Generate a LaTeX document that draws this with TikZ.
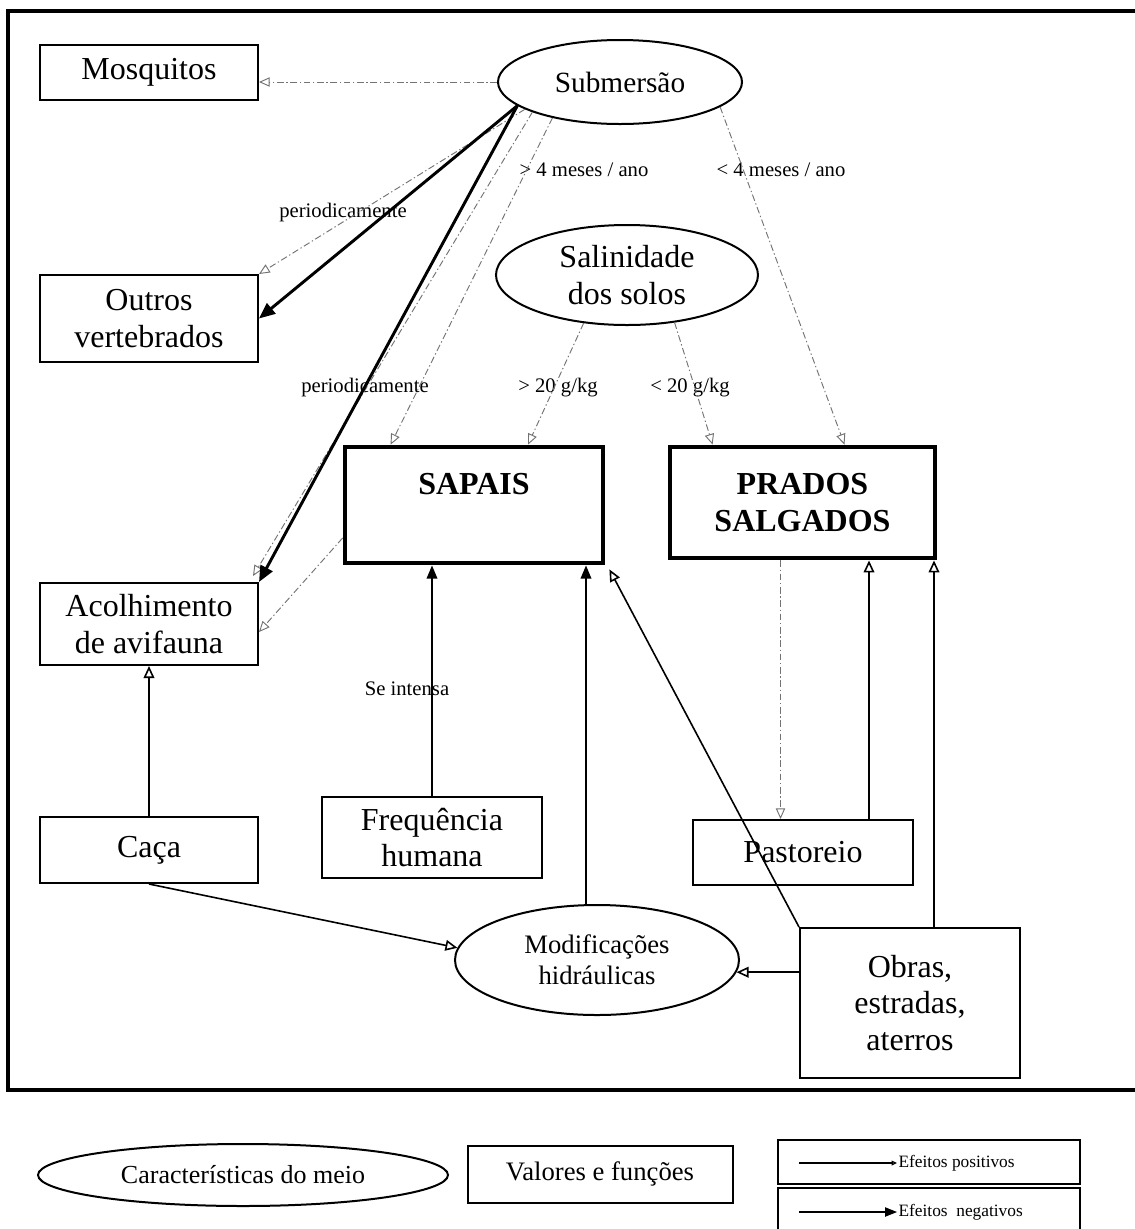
\documentclass[tikz,border=0pt]{standalone}
\usepackage{fontspec}
\setmainfont{Liberation Serif}
\usetikzlibrary{arrows.meta,shapes.geometric,calc}
\begin{document}
\begin{tikzpicture}[x=0.75pt,y=-0.75pt,
 cbox/.style={draw, line width=1.5pt, rectangle, inner sep=0pt, align=center, font=\fontsize{24}{27.5}\selectfont},
 bigbox/.style={draw, line width=3.6pt, rectangle, inner sep=0pt, align=center, font=\bfseries\fontsize{24}{28}\selectfont},
 ell/.style={draw, line width=1.5pt, ellipse, inner sep=0pt, align=center, font=\fontsize{24}{27.5}\selectfont},
 lbl/.style={font=\fontsize{15.5}{17}\selectfont, inner sep=1pt},
 posdash/.style={draw=black!55, line width=0.7pt, dash pattern=on 5pt off 2pt on 1pt off 2pt, -{Triangle[open, length=8pt, width=7pt]}},
 posarr/.style={draw, line width=1.2pt, -{Triangle[open, length=9pt, width=8pt]}},
 negarr/.style={draw, line width=1.3pt, -{Triangle[length=10pt, width=8pt]}},
 negthick/.style={draw, line width=2.2pt, -{Triangle[length=12pt, width=10pt]}}
]
\useasboundingbox (0,0) rectangle (1135,1229);
\fill[white] (0,0) rectangle (1135,1229);
% frame
\draw[line width=3.2pt] (1140,11) -- (8,11) -- (8,1090) -- (1140,1090);

% nodes
\node[cbox, minimum width=218*.75pt, minimum height=55*.75pt] (mosq) at (149,72.5) {Mosquitos};
\node[ell, minimum width=244*.75pt, minimum height=84*.75pt, font=\fontsize{22}{25}\selectfont] (sub) at (620,82) {Submersão};
\node[ell, minimum width=262*.75pt, minimum height=100*.75pt] (sal) at (627,275) {Salinidade\\dos solos};
\node[cbox, minimum width=218*.75pt, minimum height=87*.75pt] (outros) at (149,318.5) {Outros\\vertebrados};
\node[bigbox, minimum width=258*.75pt, minimum height=116*.75pt] (sapais) at (474,505) {};
\node[font=\bfseries\fontsize{24}{28}\selectfont, inner sep=0pt] (sapaist) at (474,484) {SAPAIS};
\node[bigbox, minimum width=265*.75pt, minimum height=111*.75pt] (prados) at (802.5,502.5) {PRADOS\\SALGADOS};
\node[cbox, minimum width=218*.75pt, minimum height=82*.75pt] (acol) at (149,624) {Acolhimento\\de avifauna};
\node[cbox, minimum width=218*.75pt, minimum height=66*.75pt] (caca) at (149,850) {Caça};
\node[cbox, minimum width=220*.75pt, minimum height=81*.75pt] (freq) at (432,837.5) {Frequência\\humana};
\node[cbox, minimum width=220*.75pt, minimum height=65*.75pt] (past) at (803,852.5) {Pastoreio};
\node[ell, minimum width=284*.75pt, minimum height=110*.75pt, font=\fontsize{20}{23}\selectfont] (modif) at (597,960) {Modificações\\hidráulicas};
\node[cbox, minimum width=220*.75pt, minimum height=150*.75pt] (obras) at (910,1003) {Obras,\\estradas,\\aterros};

% labels
\node[lbl] (l4a) at (584,170) {> 4 meses / ano};
\node[lbl] (l4b) at (781,170) {< 4 meses / ano};
\node[lbl] (l20a) at (558,388) {> 20 g/kg};
\node[lbl] (l20b) at (690,388) {< 20 g/kg};
\node[lbl] (per1) at (343,213) {periodicamente};
\node[lbl] (per2) at (365,388) {periodicamente};

% connectors from Submersao
\draw[posdash] (sub.west) -- (sub.west -| mosq.east);
\draw[posdash] (sub.196) -- (outros.north east);
\draw[negthick] (sub.193) -- (outros.east);
\draw[posdash] (sub.199) -- ($(acol.north east)+(-6,-6)$);
\draw[negthick] (sub.193) -- (acol.north east);
\draw[posdash] (sub.208) -- ($(sapais.north west)+(48,0)$);
\draw[posdash] (sub.-14) -- ($(prados.north)+(42,0)$);
% from Salinidade
\draw[posdash] (sal.228) -- ($(sapais.north)+(54,0)$);
\draw[posdash] (sal.-45) -- ($(prados.north west)+(45,0)$);
% SAPAIS -> Acolhimento
\draw[posdash] ($(sapais.west)+(0,33)$) -- ($(acol.east)+(0,8)$);
% PRADOS -> Pastoreio
\coordinate (dtop) at ($(prados.south)+(-22,0)$);
\draw[posdash] (dtop) -- (dtop |- past.north);

% lower connectors
\draw[posarr] (caca.north) -- (acol.south);
\draw[negarr] (freq.north) -- (freq.north |- sapais.south) node[lbl, pos=0.466, xshift=-18.75pt] (seint) {Se intensa};
\coordinate (mtop) at ($(modif.north)+(-11,0)$);
\draw[negarr] (mtop) -- (mtop |- sapais.south);
\draw[posarr] (obras.north west) -- ($(sapais.south east)+(4,4)$);
\coordinate (ptop) at ($(past.north)+(66,0)$);
\draw[posarr] (ptop) -- (ptop |- prados.south);
\coordinate (otop) at ($(obras.north)+(24,0)$);
\draw[posarr] (otop) -- (otop |- prados.south);
\draw[posarr] (caca.south) -- (modif.175);
\draw[posarr] (obras.west |- modif.-5) -- (modif.-5);

% legend
\node[ell, minimum width=410*.75pt, minimum height=62*.75pt, font=\fontsize{19.5}{22}\selectfont] (lell) at (243,1175) {Características do meio};
\node[cbox, minimum width=265*.75pt, minimum height=57*.75pt, font=\fontsize{20}{22}\selectfont] (lbox) at (600,1174) {Valores e funções};
\node[cbox, minimum width=302*.75pt, minimum height=44*.75pt] (lpos) at (929,1162) {};
\node[cbox, minimum width=302*.75pt, minimum height=46*.75pt] (lneg) at (929,1211) {};
\node[font=\fontsize{13}{15}\selectfont, anchor=west, inner sep=1pt] (tpos) at (897,1163) {Efeitos positivos};
\node[font=\fontsize{13}{15}\selectfont, anchor=west, inner sep=1pt] (tneg) at (897,1212) {Efeitos\ \ negativos};
\coordinate (spos) at ($(lpos.west)+(22,1)$);
\draw[line width=0.9pt, -{Triangle[open, length=4pt, width=3.5pt]}] (spos) -- (spos -| tpos.west);
\coordinate (sneg) at ($(lneg.west)+(22,1)$);
\draw[line width=0.9pt, -{Triangle[length=9pt, width=7pt]}] (sneg) -- (sneg -| tneg.west);
\end{tikzpicture}
\end{document}
